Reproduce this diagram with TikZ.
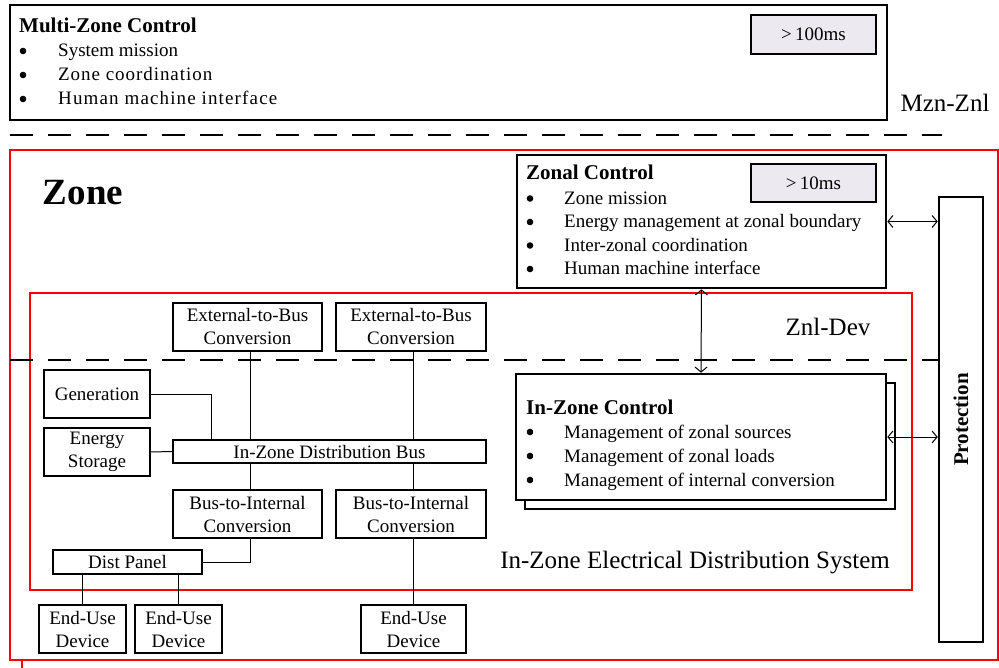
\documentclass[tikz,border=0pt]{standalone}
\usepackage{fontspec}
\setmainfont{Liberation Serif}
\usetikzlibrary{arrows.meta}
\definecolor{timefill}{RGB}{236,233,241}
\newcommand{\wide}[2]{{\addfontfeature{LetterSpace=#1}#2}}

\begin{document}
\begin{tikzpicture}
  [x=1pt, y=-1pt,
   every node/.style={font=\fontsize{19}{23}\selectfont},
   blk/.style={draw, line width=1.6pt, fill=white, inner sep=0pt, align=center, minimum height=48pt},
   ctl/.style={draw, line width=2.6pt, fill=white, inner sep=0pt},
   ttl/.style={inner sep=0pt, anchor=base west, font=\bfseries\fontsize{21}{23}\selectfont},
   itm/.style={inner sep=0pt, anchor=base west},
   dot/.style={fill=black},
   tbox/.style={draw, line width=1.6pt, fill=timefill, inner sep=0pt, minimum width=125pt, minimum height=39pt},
   lbl/.style={inner sep=0pt, font=\fontsize{25}{30}\selectfont},
   zone/.style={draw=red, line width=2pt},
   sep/.style={line width=2.6pt, dash pattern=on 23pt off 15pt},
   link/.style={line width=1pt},
   bi/.style={line width=1pt, {Straight Barb[length=5pt,width=12pt]}-{Straight Barb[length=5pt,width=12pt]}}]
  \useasboundingbox (0,0) rectangle (999,668);

  % zones
  \draw[zone] (10,150) rectangle (998,660);
  \draw[zone] (30,293) rectangle (912,590);
  \draw[zone] (22,660) -- (22,668);
  \node[inner sep=0pt, font=\bfseries\fontsize{37}{40}\selectfont] (zone) at (83,193) {Zone};

  % multi-zone control
  \node[ctl, minimum width=877pt, minimum height=115pt] (mzc) at (448.5,62.5) {};
  \node[ttl] (mzc-t) at (19,33) {Multi-Zone Control};
  \node[itm] (mzc-1) at (58,57) {System mission};
  \node[itm] (mzc-2) at (58,81) {\wide{5}{Zone coordination}};
  \node[itm] (mzc-3) at (58,105) {\wide{6}{Human machine interface}};
  \foreach \i in {1,2,3}
    \fill[dot] (23,27+24*\i) circle (3.3pt);
  \node[tbox] (t100) at (813.5,34.5) {>\,100ms};
  \node[lbl] (mznznl) at (945,103) {Mzn-Znl};

  % levels
  \draw[sep] (10,135) -- (942,135);

  % zonal control
  \node[ctl, minimum width=369pt, minimum height=133pt] (zc) at (701.5,221.5) {};
  \node[ttl] (zc-t) at (526,180) {Zonal Control};
  \foreach \t [count=\i] in {Zone mission, Energy management at zonal boundary, Inter-zonal coordination, Human machine interface}{
    \node[itm] (zc-\i) at (564,181+23.5*\i) {\t};
    \fill[dot] (530,175+23.5*\i) circle (3.3pt);
  }
  \node[tbox, minimum height=38pt] (t10) at (813.5,183) {>\,10ms};

  % protection
  \node[ctl, minimum width=44pt, minimum height=445pt] (prot) at (961,419.5)
    {\rotatebox{90}{\bfseries\fontsize{21}{23}\selectfont Protection}};

  \node[lbl] (znldev) at (828,327) {Znl-Dev};
  \draw[sep] (10,360) -- (prot.west |- 0,360);

  % in-zone control
  \node[ctl, minimum width=370pt, minimum height=126pt] (izs) at (710,446) {};
  \node[ctl, minimum width=370pt, minimum height=126pt] (iz) at (701,437) {};
  \node[ttl] (iz-t) at (526,414) {In-Zone Control};
  \foreach \t [count=\i] in {Management of zonal sources, Management of zonal loads, Management of internal conversion}{
    \node[itm] (iz-\i) at (564,414+24*\i) {\t};
    \fill[dot] (530,408+24*\i) circle (3.3pt);
  }

  \draw[bi] (zc.east) -- (prot.west |- zc.east);
  \draw[bi] (iz.east) -- (prot.west |- iz.east);
  \draw[bi] (zc.south) -- (iz.north);

  \node[lbl] (iedsl) at (695,563) {In-Zone Electrical Distribution System};

  % distribution system
  \node[blk, minimum width=149pt] (ext1) at (247.5,327) {External-to-Bus\\Conversion};
  \node[blk, minimum width=150pt] (ext2) at (411,327) {External-to-Bus\\Conversion};
  \node[blk, minimum width=106pt] (gen) at (97,394) {Generation};
  \node[blk, minimum width=106pt] (es) at (97,452) {Energy\\Storage};
  \node[blk, minimum width=313pt, minimum height=23pt] (bus) at (329.5,451.5) {In-Zone Distribution Bus};
  \node[blk, minimum width=149pt] (bti1) at (247.5,514) {Bus-to-Internal\\Conversion};
  \node[blk, minimum width=150pt] (bti2) at (411,514) {Bus-to-Internal\\Conversion};
  \node[blk, minimum width=149pt, minimum height=24pt] (dp) at (127.5,562) {Dist Panel};
  \node[blk, minimum width=87pt] (eu1) at (82.5,629) {End-Use\\Device};
  \node[blk, minimum width=87pt] (eu2) at (178.5,629) {End-Use\\Device};
  \node[blk, minimum width=105pt] (eu3) at (413.5,629) {End-Use\\Device};

  \draw[link] ([xshift=2.5pt]ext1.south) -- ([xshift=2.5pt]bus.north -| ext1.south);
  \draw[link] (ext2.south -| eu3.north) -- (bus.north -| eu3.north);
  \draw[link] ([xshift=2.5pt]bus.south -| bti1.north) -- ([xshift=2.5pt]bti1.north);
  \draw[link] (bus.south -| eu3.north) -- (bti2.north -| eu3.north);
  \draw[link] (gen.east) -| ([xshift=39pt]bus.north west);
  \draw[link] (es.east) -- (bus.west);
  \draw[link] ([xshift=2.5pt]bti1.south) |- (dp.east);
  \draw[link] (dp.south -| eu1.north) -- (eu1.north);
  \draw[link] (dp.south -| eu2.north) -- (eu2.north);
  \draw[link] (bti2.south -| eu3.north) -- (eu3.north);
\end{tikzpicture}
\end{document}
